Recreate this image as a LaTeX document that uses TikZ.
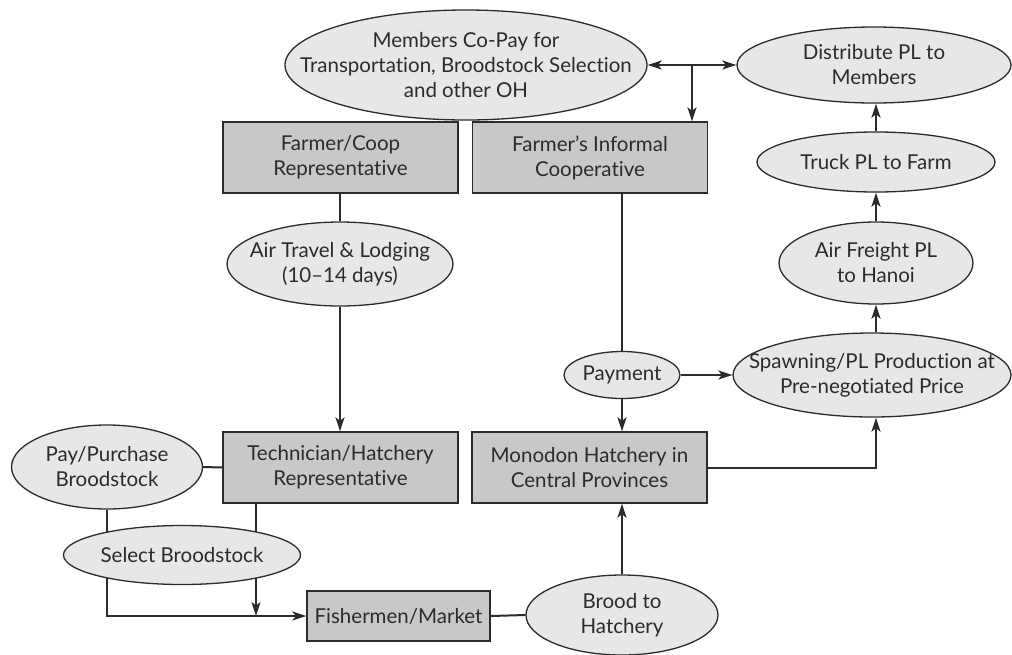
\documentclass[tikz,border=0pt]{standalone}
\usepackage{fontspec}
\setmainfont{Lato}[Ligatures={NoCommon}]
\usetikzlibrary{shapes.geometric,arrows.meta,backgrounds}
\definecolor{ink}{HTML}{2B2B2B}
\definecolor{ovalfill}{HTML}{E6E7E8}
\definecolor{boxfill}{HTML}{C8C8C8}
\tikzset{
  lbl/.style={font=\fontsize{20.5}{25}\selectfont, text=ink, align=center, inner sep=0pt},
  oval/.style={ellipse, draw=ink, line width=1.3pt, fill=ovalfill, inner sep=0pt},
  box/.style={lbl, rectangle, draw=ink, line width=1.3pt, fill=boxfill,
              minimum width=235pt, minimum height=71pt},
  link/.style={draw=ink, line width=2pt},
  arr/.style={link, -{Stealth[length=14pt,width=9pt,inset=3.5pt]}},
  darr/.style={link, {Stealth[length=14pt,width=9pt,inset=3.5pt]}-{Stealth[length=14pt,width=9pt,inset=3.5pt]}}
}
\begin{document}
\begin{tikzpicture}[x=1pt,y=-1pt]
\useasboundingbox (0,0) rectangle (1012,654);

% ovals: the outline is a node of fixed size, its label a node on top
\node[oval, minimum width=362pt, minimum height=110pt] (copay) at (466,65) {};
\node[lbl] (copay-t) at (copay)
  {Members Co-Pay for\\Transportation, Broodstock Selection\\and other OH};
\node[oval, minimum width=274pt, minimum height=76pt] (dist) at (874,65) {};
\node[lbl] (dist-t) at (dist) {Distribute PL to\\Members};
\node[oval, minimum width=238pt, minimum height=60pt] (truck) at (876,162) {};
\node[lbl] (truck-t) at (truck) {Truck PL to Farm};
\node[oval, minimum width=194pt, minimum height=82pt] (freight) at (876,263) {};
\node[lbl] (freight-t) at (freight) {Air Freight PL\\to Hanoi};
\node[oval, minimum width=278pt, minimum height=84pt] (spawn) at (872,375) {};
\node[lbl] (spawn-t) at (spawn) {Spawning/PL Production at\\Pre-negotiated Price};
\node[oval, minimum width=226pt, minimum height=84pt] (air) at (340,264) {};
\node[lbl] (air-t) at (air) {Air Travel \& Lodging\\(10--14 days)};
\node[oval, minimum width=116pt, minimum height=47pt] (pay) at (622,375) {};
\node[lbl] (pay-t) at (pay) {Payment};
\node[oval, minimum width=191pt, minimum height=84pt] (purchase) at (107,467) {};
\node[lbl] (purchase-t) at (purchase) {Pay/Purchase\\Broodstock};
\node[oval, minimum width=237pt, minimum height=59pt] (select) at (182,555) {};
\node[lbl] (select-t) at (select) {Select Broodstock};
\node[oval, minimum width=192pt, minimum height=80pt] (brood) at (622,615) {};
\node[lbl] (brood-t) at (brood) {Brood to\\Hatchery};

% boxes
\node[box] (rep) at (340.5,157.5) {Farmer/Coop\\Representative};
\node[box] (coop) at (590,157.5) {Farmer’s Informal\\Cooperative};
\node[box] (tech) at (340.5,467.5) {Technician/Hatchery\\Representative};
\node[box] (hatch) at (589.5,467.5) {Monodon Hatchery in\\Central Provinces};
\node[box, minimum width=183pt, minimum height=50pt] (fish) at (398.5,616)
  {Fishermen/Market};

% connectors
\coordinate (split) at (692,65);
\coordinate (techdrop) at (256,616);
\coordinate (purchdrop) at (107,616);
\begin{scope}[on background layer]
  \draw[darr] (copay.east) -- (dist.west);
  \draw[arr] (split) -- (split |- coop.north);

  \draw[link] (air |- rep.south) -- (air.north);
  \draw[arr] (air.south) -- (air |- tech.north);

  \draw[link] (pay |- coop.south) -- (pay.north);
  \draw[arr] (pay.south) -- (pay |- hatch.north);
  \draw[arr] (pay.east) -- (spawn.west);

  \draw[arr] (hatch.east) -| (spawn.south -| freight);
  \draw[arr] (spawn.north -| freight) -- (freight.south);
  \draw[arr] (freight.north) -- (truck.south);
  \draw[arr] (truck.north) -- (truck |- dist.south);

  \draw[link] (purchase.east) -- (tech.west);
  \draw[arr] (purchase.south) -- (purchdrop) -- (fish.west);
  \draw[arr] (techdrop |- tech.south) -- (techdrop);

  \draw[link] (fish.east) -- (brood.west);
  \draw[arr] (brood.north) -- (brood |- hatch.south);
\end{scope}
\end{tikzpicture}
\end{document}
